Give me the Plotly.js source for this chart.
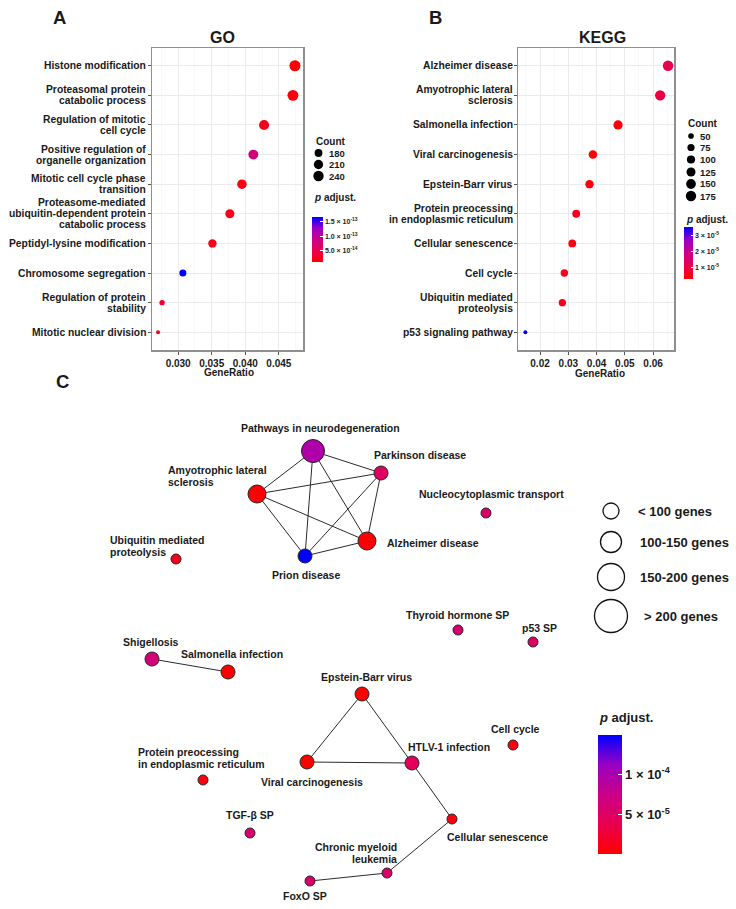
<!DOCTYPE html>
<html>
<head>
<meta charset="utf-8">
<script src="https://cdn.plot.ly/plotly-3.0.1.min.js"></script>
<style>html,body{margin:0;padding:0;background:#fff;}#chart{width:736px;height:909px;}</style>
</head>
<body>
<div id="chart"></div>
<script>
// ---------------- DATA ----------------
// Panel A: GO
const goTerms = [
  "Histone modification",
  "Proteasomal protein<br>catabolic process",
  "Regulation of mitotic<br>cell cycle",
  "Positive regulation of<br>organelle organization",
  "Mitotic cell cycle phase<br>transition",
  "Proteasome-mediated<br>ubiquitin-dependent protein<br>catabolic process",
  "Peptidyl-lysine modification",
  "Chromosome segregation",
  "Regulation of protein<br>stability",
  "Mitotic nuclear division"
];
const goGeneRatio = [0.0474, 0.0471, 0.0428, 0.0412, 0.0395, 0.0377, 0.0351, 0.0307, 0.0276, 0.0270];
const goCount     = [258, 256, 232, 224, 215, 205, 191, 168, 151, 147];
const goPadj      = [1.2e-14, 1.8e-14, 2.5e-14, 8.0e-14, 2.0e-14, 2.2e-14, 2.4e-14, 1.67e-13, 3.5e-14, 2.8e-14];
const goCountBreaks = [180, 210, 240];
const goPadjTicks = [5e-14, 1e-13, 1.5e-13];
const goPadjTickText = ["5.0 × 10<sup>-14</sup>", "1.0 × 10<sup>-13</sup>", "1.5 × 10<sup>-13</sup>"];
const goTickVals = [0.030, 0.035, 0.040, 0.045];

// Panel B: KEGG
const keggTerms = [
  "Alzheimer disease",
  "Amyotrophic lateral<br>sclerosis",
  "Salmonella infection",
  "Viral carcinogenesis",
  "Epstein-Barr virus",
  "Protein preocessing<br>in endoplasmic reticulum",
  "Cellular senescence",
  "Cell cycle",
  "Ubiquitin mediated<br>proteolysis",
  "p53 signaling pathway"
];
const keggGeneRatio = [0.0653, 0.0625, 0.0476, 0.0387, 0.0375, 0.0328, 0.0314, 0.0286, 0.0279, 0.0148];
const keggCount     = [180, 172, 131, 107, 103, 90, 87, 79, 77, 41];
const keggPadj      = [1.15e-5, 1.0e-5, 4.0e-6, 3.1e-6, 4.5e-6, 6.5e-6, 5.0e-6, 5.5e-6, 6.5e-6, 3.56e-5];
const keggCountBreaks = [50, 75, 100, 125, 150, 175];
const keggPadjTicks = [1e-5, 2e-5, 3e-5];
const keggPadjTickText = ["1 × 10<sup>-5</sup>", "2 × 10<sup>-5</sup>", "3 × 10<sup>-5</sup>"];
const keggTickVals = [0.02, 0.03, 0.04, 0.05, 0.06];

// Panel C: network (layout coordinates in pixels of the figure)
const netNodes = [
  "Pathways in neurodegeneration", "Parkinson disease", "Amyotrophic lateral<br>sclerosis",
  "Alzheimer disease", "Prion disease", "Nucleocytoplasmic transport",
  "Ubiquitin mediated<br>proteolysis", "Thyroid hormone SP", "p53 SP", "Shigellosis",
  "Salmonella infection", "Epstein-Barr virus", "Cell cycle", "HTLV-1 infection",
  "Viral carcinogenesis", "Protein preocessing<br>in endoplasmic reticulum", "TGF-β SP",
  "Cellular senescence", "Chronic myeloid<br>leukemia", "FoxO SP"
];
const netX = [313, 381, 257, 367, 305, 486, 176, 458, 533, 152, 228, 362, 513, 412, 307, 203, 250, 452, 387, 310];
const netY = [451, 473, 494, 541, 556, 513, 559, 630, 642, 659, 672, 694, 745, 763, 762, 780, 833, 819, 873, 881];
const netCount = [230, 140, 172, 180, 125, 60, 77, 65, 41, 120, 131, 103, 79, 115, 107, 90, 55, 87, 50, 70];
const netPadj  = [9.6e-5, 5.0e-5, 2e-6, 2e-6, 1.49e-4, 5.5e-5, 1.2e-5, 5.5e-5, 5e-5, 6.5e-5,
                  1e-6, 1e-6, 1.0e-5, 4.5e-5, 1e-6, 1e-5, 6e-5, 8e-6, 5.5e-5, 5.5e-5];
const netEdgeFrom = [0,0,0,0,1,1,1,2,2,4, 9, 11,11,14, 13,17,18];
const netEdgeTo   = [1,2,3,4,2,3,4,3,4,3, 10, 14,13,13, 17,18,19];
const netSizeClasses = ["< 100 genes", "100-150 genes", "150-200 genes", "> 200 genes"];
const netPadjTicks = [5e-5, 1e-4];
const netPadjTickText = ["5 × 10<sup>-5</sup>", "1 × 10<sup>-4</sup>"];

// ---------------- STYLE / LAYOUT ----------------
const W = 736, H = 909;
const px = v => v / W;
const py = v => 1 - v / H;
const FONT = "Liberation Sans, Arial, Helvetica, sans-serif";
const TXT = "#1a1a1a";
const colorscale = [[0, "#FF0000"], [0.25, "#E80050"], [0.5, "#CA0088"], [0.75, "#9A00C3"], [1, "#0000FF"]];

function makeSizer(counts, dmin, dmax) {
  const lo = Math.min(...counts), hi = Math.max(...counts);
  return c => dmin + (dmax - dmin) * Math.sqrt(Math.max(0, Math.min(1, (c - lo) / (hi - lo))));
}
const sizeA = makeSizer(goCount, 4, 11);
const sizeB = makeSizer(keggCount, 4, 10.5);
const sizeC = c => c < 100 ? 10 : c < 150 ? 14 : c < 200 ? 18 : 23;

// label offsets for network nodes: [dx, dy, anchor]
const netLabelOffset = [
  [7, -23, "center"], [-8, -18, "left"], [-90, -18, "left"], [19, 2, "left"], [1, 19, "center"],
  [-68, -19, "left"], [-67, -13, "left"], [-1, -15, "center"], [6, -14, "center"], [-1, -17, "center"],
  [4, -18, "center"], [4, -17, "center"], [2, -16, "center"], [37, -16, "center"], [5, 20, "center"],
  [-66, -22, "left"], [0, -18, "center"], [45, 18, "center"], [11, -20, "right"], [-5, 15, "center"]
];

const traces = [];
traces.push({
  type: "scatter", mode: "markers", x: goGeneRatio, y: goTerms, xaxis: "x", yaxis: "y",
  marker: { size: goCount.map(sizeA), color: goPadj, coloraxis: "coloraxis", opacity: 1, line: { width: 0 } },
  hoverinfo: "skip", cliponaxis: false
});
traces.push({
  type: "scatter", mode: "markers", x: keggGeneRatio, y: keggTerms, xaxis: "x2", yaxis: "y2",
  marker: { size: keggCount.map(sizeB), color: keggPadj, coloraxis: "coloraxis2", opacity: 1, line: { width: 0 } },
  hoverinfo: "skip", cliponaxis: false
});
// edges
const ex = [], ey = [];
netEdgeFrom.forEach((f, i) => {
  const t = netEdgeTo[i];
  ex.push(netX[f], netX[t], null);
  ey.push(netY[f], netY[t], null);
});
traces.push({
  type: "scatter", mode: "lines", x: ex, y: ey, xaxis: "x3", yaxis: "y3",
  line: { color: "#2b2b2b", width: 1 }, hoverinfo: "skip", cliponaxis: false
});
traces.push({
  type: "scatter", mode: "markers", x: netX, y: netY, xaxis: "x3", yaxis: "y3",
  marker: { size: netCount.map(sizeC), color: netPadj, coloraxis: "coloraxis3", opacity: 1, line: { color: "#262626", width: 1 } },
  hoverinfo: "skip", cliponaxis: false
});

function dotAxisX(domain, range, tickvals, fmt, anchor) {
  return {
    domain, range, anchor, tickvals, tickformat: fmt,
    showline: true, mirror: true, linecolor: "#8f8f8f", linewidth: 1.5,
    showgrid: true, gridcolor: "#ebebeb", gridwidth: 1,
    minor: { dtick: (tickvals[1] - tickvals[0]) / 2, tick0: tickvals[0], showgrid: true, gridcolor: "#f3f3f3", gridwidth: 0.6, ticks: "" },
    ticks: "outside", ticklen: 3, tickcolor: "#555", tickwidth: 1,
    tickfont: { family: FONT, size: 10, color: TXT, weight: "bold" },
    zeroline: false, fixedrange: true
  };
}
function dotAxisY(domain, cats, anchor) {
  return {
    domain, anchor, type: "category", categoryorder: "array", categoryarray: cats,
    range: [cats.length - 0.4, -0.6], showticklabels: false,
    showline: true, mirror: true, linecolor: "#8f8f8f", linewidth: 1.5,
    showgrid: true, gridcolor: "#ebebeb", gridwidth: 1,
    ticks: "outside", ticklen: 3, tickcolor: "#555", tickwidth: 1,
    zeroline: false, fixedrange: true
  };
}

const cbBase = {
  xanchor: "left", yanchor: "top", lenmode: "pixels", thicknessmode: "pixels",
  xpad: 0, ypad: 0, outlinewidth: 0, ticks: "inside", tickcolor: "#ffffff", tickwidth: 1
};

const layout = {
  width: W, height: H, margin: { l: 0, r: 0, t: 0, b: 0 },
  paper_bgcolor: "#ffffff", plot_bgcolor: "#ffffff", showlegend: false,
  font: { family: FONT, color: TXT },
  xaxis: dotAxisX([px(152), px(303)], [0.0261, 0.0486], goTickVals, ".3f", "y"),
  yaxis: dotAxisY([py(350), py(48)], goTerms, "x"),
  xaxis2: dotAxisX([px(518), px(674)], [0.0122, 0.0674], keggTickVals, ".2f", "y2"),
  yaxis2: dotAxisY([py(350), py(48)], keggTerms, "x2"),
  xaxis3: { domain: [0, 1], range: [0, W], anchor: "y3", visible: false, fixedrange: true },
  yaxis3: { domain: [0, py(390)], range: [H, 390], anchor: "x3", visible: false, fixedrange: true },
  coloraxis: {
    colorscale, showscale: true,
    colorbar: Object.assign({}, cbBase, {
      x: px(312), y: py(217), len: 45, thickness: 11, ticklen: 2.5,
      tickvals: goPadjTicks, ticktext: goPadjTickText,
      tickfont: { family: FONT, size: 7, color: "#222", weight: "bold" }
    })
  },
  coloraxis2: {
    colorscale, showscale: true,
    colorbar: Object.assign({}, cbBase, {
      x: px(684), y: py(227), len: 52, thickness: 9, ticklen: 2,
      tickvals: keggPadjTicks, ticktext: keggPadjTickText,
      tickfont: { family: FONT, size: 7, color: "#222", weight: "bold" }
    })
  },
  coloraxis3: {
    colorscale, showscale: true,
    colorbar: Object.assign({}, cbBase, {
      x: px(598), y: py(735), len: 119, thickness: 24, ticklen: 4,
      tickvals: netPadjTicks, ticktext: netPadjTickText,
      tickfont: { family: FONT, size: 13, color: TXT, weight: "bold" }
    })
  },
  annotations: [],
  shapes: []
};

function ann(text, x, y, size, opts) {
  layout.annotations.push(Object.assign({
    text, x: px(x), y: py(y), xref: "paper", yref: "paper", showarrow: false,
    xanchor: "center", yanchor: "middle",
    font: { family: FONT, size, color: TXT, weight: "bold" }
  }, opts || {}));
}
// multi-line text drawn line by line for tighter line spacing
function multiAnn(text, base, lineGap, size) {
  const lines = text.split("<br>");
  const n = lines.length;
  lines.forEach((ln, k) => {
    layout.annotations.push(Object.assign({}, base, {
      text: ln, showarrow: false, yanchor: "middle", borderpad: 0,
      yshift: (base.yshift || 0) - (k - (n - 1) / 2) * lineGap,
      font: { family: FONT, size, color: TXT, weight: "bold" }
    }));
  });
}

// y-axis category labels (right aligned, tight line spacing)
goTerms.forEach((t, i) => multiAnn(t, { x: px(147), xref: "paper", y: i, yref: "y", xanchor: "right" }, 11, 10.3));
keggTerms.forEach((t, i) => multiAnn(t, { x: px(514), xref: "paper", y: i, yref: "y2", xanchor: "right" }, 11, 10.3));

// panel letters and titles
ann("A", 59, 17, 18.5);
ann("B", 435, 17, 18.5);
ann("C", 62, 381, 18.5);
ann("GO", 222, 38, 16);
ann("KEGG", 602, 38, 16);
ann("GeneRatio", 229, 372, 10);
ann("GeneRatio", 600, 373, 10);

// Legend A
ann("Count", 314, 141, 10, { xanchor: "left" });
goCountBreaks.forEach((c, i) => {
  const yy = [153, 164.5, 176][i];
  const r = sizeA(c) / 2;
  layout.shapes.push({ type: "circle", xref: "paper", yref: "paper", xsizemode: "pixel", ysizemode: "pixel",
    xanchor: px(318.5), yanchor: py(yy), x0: -r, x1: r, y0: -r, y1: r, fillcolor: "#000", line: { width: 0 } });
  ann(String(c), 327, yy, 9.5, { xanchor: "left" });
});
ann("<i>p</i> adjust.", 312, 198, 10, { xanchor: "left" });

// Legend B
ann("Count", 686, 124, 10, { xanchor: "left" });
keggCountBreaks.forEach((c, i) => {
  const yy = [136, 147.5, 159.5, 172, 184, 196][i];
  const r = sizeB(c) / 2;
  layout.shapes.push({ type: "circle", xref: "paper", yref: "paper", xsizemode: "pixel", ysizemode: "pixel",
    xanchor: px(691), yanchor: py(yy), x0: -r, x1: r, y0: -r, y1: r, fillcolor: "#000", line: { width: 0 } });
  ann(String(c), 698, yy, 9.5, { xanchor: "left" });
});
ann("<i>p</i> adjust.", 684, 219, 10, { xanchor: "left" });

// Legend C (size classes)
const legCDiam = [16, 21, 27, 33];
const legCY = [511, 542, 577, 616];
const legCTextX = [636, 638, 638, 642];
netSizeClasses.forEach((lab, i) => {
  const r = legCDiam[i] / 2;
  layout.shapes.push({ type: "circle", xref: "paper", yref: "paper", xsizemode: "pixel", ysizemode: "pixel",
    xanchor: px(611), yanchor: py(legCY[i]), x0: -r, x1: r, y0: -r, y1: r,
    fillcolor: "rgba(255,255,255,0)", line: { color: "#111", width: 1.3 } });
  ann(lab, legCTextX[i], legCY[i], 13, { xanchor: "left" });
});
ann("<i>p</i> adjust.", 597, 717, 13, { xanchor: "left" });

// Network node labels
netNodes.forEach((name, i) => {
  const [dx, dy, anchor] = netLabelOffset[i];
  multiAnn(name, { x: netX[i], y: netY[i], xref: "x3", yref: "y3", xshift: dx, yshift: -dy, xanchor: anchor, align: anchor }, 12, 10.5);
});

Plotly.newPlot("chart", traces, layout, { staticPlot: true, displayModeBar: false });
</script>
</body>
</html>
